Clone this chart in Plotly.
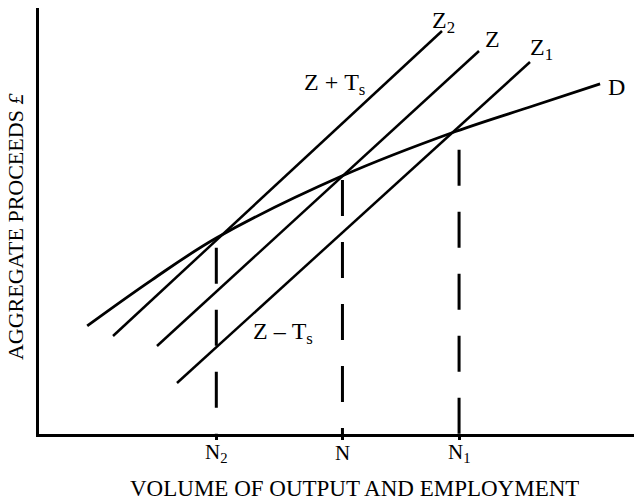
import plotly.graph_objects as go

# Aggregate demand curve D
d_x = [0.81, 1.9, 2.98, 5.1, 7.0, 8.3, 9.43]
d_y = [2.54, 3.62, 4.60, 6.06, 7.10, 7.70, 8.22]

# Aggregate supply lines (start/end points)
z2_x = [1.244, 6.773]
z2_y = [2.300, 9.460]
z_x = [1.983, 7.395]
z_y = [2.066, 8.991]
z1_x = [2.319, 8.252]
z1_y = [1.197, 8.732]

# Equilibrium employment levels and the demand at each
n_vals = [2.98, 5.1, 7.06]
n_heights = [4.60, 6.06, 7.10]
n_labels = ["N<sub>2</sub>", "N", "N<sub>1</sub>"]

# styling: gap left between the intersection and the top of each dashed drop line
drop_gaps = [0.23, 0.10, 0.43]

FONT = "Liberation Serif"
fig = go.Figure()

line_style = dict(color="black", width=2.5)
fig.add_trace(go.Scatter(x=d_x, y=d_y, mode="lines",
                         line=dict(color="black", width=2.8, shape="spline"), hoverinfo="skip"))
for xs, ys in [(z2_x, z2_y), (z_x, z_y), (z1_x, z1_y)]:
    fig.add_trace(go.Scatter(x=xs, y=ys, mode="lines", line=line_style, hoverinfo="skip"))

for nx, ny, g in zip(n_vals, n_heights, drop_gaps):
    fig.add_trace(go.Scatter(x=[nx, nx], y=[ny - g, 0], mode="lines",
                             line=dict(color="black", width=3, dash="36px,26px"), hoverinfo="skip"))

ann = []
def lab(text, x, y, size=24):
    ann.append(dict(text=text, x=x, y=y, xref="x", yref="y", showarrow=False,
                    font=dict(family=FONT, size=size, color="black"),
                    xanchor="center", yanchor="middle"))

lab("Z<sub>2</sub>", 6.80, 9.66)
lab("Z", 7.63, 9.27)
lab("Z<sub>1</sub>", 8.45, 9.04)
lab("D", 9.70, 8.15)
lab("Z\u00a0+\u00a0T<sub>s</sub>", 4.97, 8.22)
lab("Z\u00a0–\u00a0T<sub>s</sub>", 4.10, 2.38)

# tick labels on the output axis
for nx, t in zip(n_vals, n_labels):
    ann.append(dict(text=t, x=nx, y=-0.045, xref="x", yref="paper", showarrow=False,
                    xanchor="center", yanchor="middle",
                    font=dict(family=FONT, size=21, color="black")))

ann.append(dict(text="VOLUME OF OUTPUT AND EMPLOYMENT", x=0.531, y=-0.126, xref="paper", yref="paper",
                showarrow=False, xanchor="center", yanchor="middle", height=22,
                font=dict(family=FONT, size=23, color="black")))
ann.append(dict(text="AGGREGATE PROCEEDS <i>£</i>", x=-0.0387, y=0.488, xref="paper", yref="paper",
                showarrow=False, xanchor="center", yanchor="middle", textangle=-90, height=22,
                font=dict(family=FONT, size=22, color="black")))

fig.update_layout(
    width=634, height=499,
    margin=dict(l=39, r=0, t=8, b=65),
    paper_bgcolor="white", plot_bgcolor="white",
    showlegend=False,
    hovermode=False,
    annotations=ann,
    xaxis=dict(range=[0, 10], showgrid=False, zeroline=False, showline=True, linecolor="black", linewidth=3,
               tickmode="array", tickvals=n_vals, showticklabels=False, ticks="outside", ticklen=3,
               tickwidth=3, tickcolor="black", fixedrange=True),
    yaxis=dict(range=[0, 10], showgrid=False, zeroline=False, showline=True, linecolor="black", linewidth=2.5,
               showticklabels=False, ticks="", fixedrange=True),
)

fig.write_html("out.html", config={"displayModeBar": False},
               post_script="document.body.style.margin='0';document.body.style.padding='0';")
